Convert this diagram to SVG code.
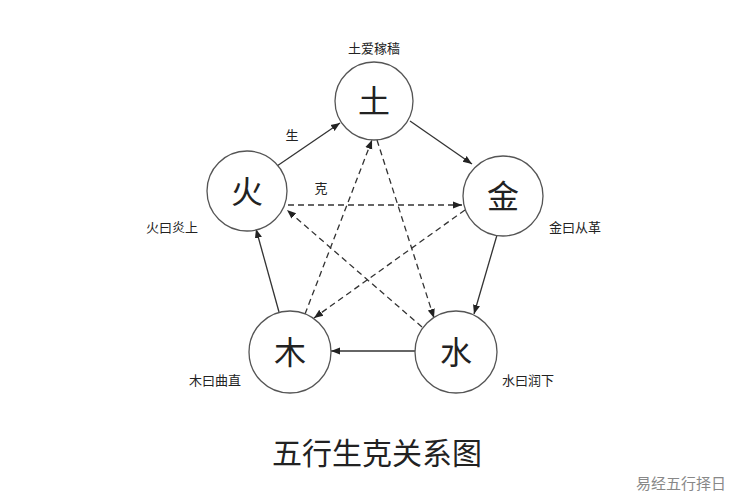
<svg xmlns="http://www.w3.org/2000/svg" width="750" height="500" viewBox="0 0 750 500">
<style>
.n{fill:#fff;stroke:#555;stroke-width:1.3}
.t{font-family:"Noto Sans CJK SC",sans-serif;fill:#222;text-anchor:middle}
.s{stroke:#333;stroke-width:1.3;fill:none;marker-end:url(#a)}
.d{stroke:#333;stroke-width:1.3;fill:none;stroke-dasharray:6,4;marker-end:url(#a)}
</style>
<defs><marker id="a" viewBox="0 0 10 10" refX="10" refY="5" markerWidth="9" markerHeight="9" orient="auto" markerUnits="userSpaceOnUse"><path d="M0,1 L10,5 L0,9 z" fill="#222"/></marker></defs>
<rect width="750" height="500" fill="#fff"/>
<g id="connectors">
<line class="s" x1="277" y1="166" x2="340" y2="123"/>
<line class="s" x1="410" y1="121" x2="472" y2="164"/>
<line class="s" x1="497" y1="235" x2="474" y2="314"/>
<line class="s" x1="416" y1="351" x2="331" y2="351"/>
<line class="s" x1="279" y1="312" x2="256" y2="229"/>
<line class="d" x1="288" y1="205" x2="462" y2="205"/>
<line class="d" x1="465" y1="210" x2="314" y2="318"/>
<line class="d" x1="305" y1="314" x2="372" y2="140"/>
<line class="d" x1="377" y1="140" x2="434" y2="318"/>
<line class="d" x1="422" y1="327" x2="287" y2="210"/>
</g>
<g id="tu"><circle class="n" cx="374" cy="101" r="39"/><text class="t" x="374" y="113" font-size="32">土</text><text class="t" x="374" y="53" font-size="13">土爱稼穑</text></g>
<g id="jin"><circle class="n" cx="503" cy="196" r="40"/><text class="t" x="503" y="208" font-size="32">金</text><text class="t" x="575" y="232" font-size="13">金曰从革</text></g>
<g id="huo"><circle class="n" cx="247" cy="191" r="40"/><text class="t" x="247" y="203" font-size="32">火</text><text class="t" x="172" y="232" font-size="13">火曰炎上</text></g>
<g id="mu"><circle class="n" cx="290" cy="352" r="41"/><text class="t" x="290" y="364" font-size="32">木</text><text class="t" x="215" y="385" font-size="13">木曰曲直</text></g>
<g id="shui"><circle class="n" cx="456" cy="352" r="41"/><text class="t" x="456" y="364" font-size="32">水</text><text class="t" x="528" y="385" font-size="13">水曰润下</text></g>
<text class="t" x="292" y="140" font-size="13">生</text>
<text class="t" x="321" y="193" font-size="13">克</text>
<text class="t" x="377" y="464" font-size="30">五行生克关系图</text>
<text class="t" x="681" y="489" font-size="15" style="fill:#888">易经五行择日</text>
</svg>
